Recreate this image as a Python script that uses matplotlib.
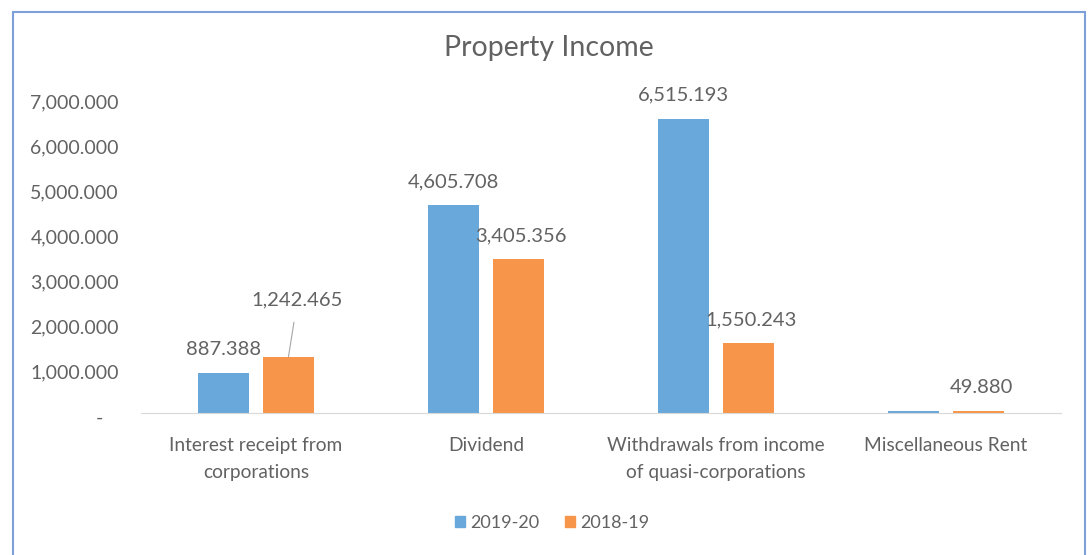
import numpy as np
import matplotlib
matplotlib.use('Agg')
import matplotlib.pyplot as plt
import matplotlib.transforms as mtransforms
from matplotlib.patches import Rectangle, Patch
from matplotlib.ticker import FuncFormatter

plt.rcParams['font.family'] = ['Lato', 'DejaVu Sans']

# data
categories = ['Interest receipt from\ncorporations', 'Dividend',
              'Withdrawals from income\nof quasi-corporations', 'Miscellaneous Rent']
val_2019_20 = [887.388, 4605.708, 6515.193, 35.0]
val_2018_19 = [1242.465, 3405.356, 1550.243, 49.880]
labels_2019_20 = ['887.388', '4,605.708', '6,515.193', None]
labels_2018_19 = ['1,242.465', '3,405.356', '1,550.243', '49.880']
series_names = ['2019-20', '2018-19']

blue = '#68A8DA'
orange = '#F7964A'
grey = '#626262'

fig = plt.figure(figsize=(10.89, 5.55), dpi=100)
ax = fig.add_axes([0.1295, 0.2559, 0.8448, 0.5693])

x = np.arange(len(categories))
w = 0.222
off = 0.141
b1 = ax.bar(x - off, val_2019_20, w, color=blue)
b2 = ax.bar(x + off, val_2018_19, w, color=orange)

ax.set_xlim(-0.5, 3.5)
ax.set_ylim(0, 7000)
ax.set_yticks(np.arange(0, 7001, 1000))


def fmt(v, pos):
    if v == 0:
        return '-   '
    return f'{v:,.3f}'


ax.yaxis.set_major_formatter(FuncFormatter(fmt))
ax.tick_params(axis='y', length=0, pad=16, labelsize=14, labelcolor=grey)
# y labels sit a little below their gridline in the original
shift = mtransforms.ScaledTranslation(0, -4 / 100, fig.dpi_scale_trans)
for lab in ax.get_yticklabels():
    lab.set_transform(lab.get_transform() + shift)

ax.set_xticks(x)
ax.set_xticklabels(categories, fontsize=13.8, color=grey, linespacing=1.75)
ax.tick_params(axis='x', length=0, pad=17)

for s in ['top', 'right', 'left']:
    ax.spines[s].set_visible(False)
ax.spines['bottom'].set_color('#D9D9D9')

# data labels
for rect, lab in zip(b1, labels_2019_20):
    if lab is None:
        continue
    ax.annotate(lab, (rect.get_x() + rect.get_width() / 2, rect.get_height()),
                xytext=(0, 17), textcoords='offset points', ha='center', va='center',
                fontsize=14.5, color=grey)
for i, (rect, lab) in enumerate(zip(b2, labels_2018_19)):
    cx = rect.get_x() + rect.get_width() / 2
    if i == 0:
        ax.annotate(lab, (cx, rect.get_height()), xytext=(6.5, 41),
                    textcoords='offset points', ha='center', va='center',
                    fontsize=14.5, color=grey,
                    arrowprops=dict(arrowstyle='-', color='#A6A6A6', lw=0.8,
                                    shrinkA=8, shrinkB=0))
    else:
        ax.annotate(lab, (cx, rect.get_height()), xytext=(2, 17),
                    textcoords='offset points', ha='center', va='center',
                    fontsize=14.5, color=grey)

fig.text(0.504, 0.913, 'Property Income', ha='center', va='center',
         fontsize=20.5, color=grey)

handles = [Patch(color=blue), Patch(color=orange)]
fig.legend(handles, series_names, loc='center', bbox_to_anchor=(0.507, 0.058),
           ncol=2, frameon=False, fontsize=13, labelcolor=grey,
           handlelength=0.55, handleheight=0.55, handletextpad=0.3, columnspacing=1.4)

# outer border
fig.patches.append(Rectangle((13 / 1089, -0.05), (1085 - 13) / 1089, 1.05 - 12 / 555,
                             transform=fig.transFigure, fill=False,
                             edgecolor='#7F9FD8', lw=1.5))

fig.savefig('out.png', dpi=100)
